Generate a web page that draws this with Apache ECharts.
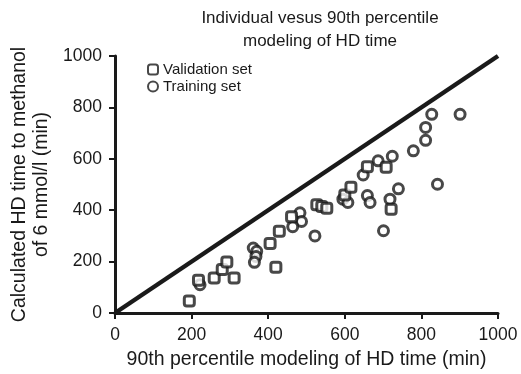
<!DOCTYPE html>
<html>
<head>
<meta charset="utf-8">
<script src="https://cdn.jsdelivr.net/npm/echarts@6/dist/echarts.min.js"></script>
<style>
  html, body { margin: 0; padding: 0; background: #fff; }
  #chart { width: 521px; height: 374px; }
</style>
</head>
<body>
<div id="chart"></div>
<script>
// data
const validation = [
  [194, 47], [218, 127], [259, 136], [280, 169], [292, 198], [311, 136],
  [405, 270], [420, 178], [429, 318], [461, 375], [527, 421], [540, 414],
  [553, 408], [600, 459], [616, 489], [659, 569], [708, 567], [721, 404],
]
const training = [
  [222, 110], [361, 253], [370, 240], [368, 220], [364, 197], [483, 390],
  [487, 356], [464, 336], [522, 300], [595, 443], [608, 430], [648, 537],
  [659, 457], [666, 430], [687, 592], [724, 610], [701, 320], [718, 443],
  [740, 483], [779, 631], [811, 672], [811, 722], [827, 773], [901, 773],
  [842, 501],
]
const identity = [[0, 0], [1000, 1000]]

const FONT = 'Liberation Sans'
const INK = '#1a1a1a'

const chart = echarts.init(document.getElementById('chart'))
const axisCommon = {
  type: 'value', min: 0, max: 1000, interval: 200,
  nameLocation: 'middle',
  nameTextStyle: { fontFamily: FONT, fontSize: 19.5, color: INK, lineHeight: 22 },
  axisLine: { show: true, lineStyle: { color: INK, width: 3 } },
  axisTick: { show: true, length: 6, lineStyle: { color: INK, width: 2 } },
  axisLabel: { fontFamily: FONT, fontSize: 17.5, color: INK, margin: 13, formatter: v => String(v) },
  splitLine: { show: false },
}
const markerStyle = { color: '#fff', borderColor: INK, borderWidth: 3 }

chart.setOption({
  animation: false,
  title: {
    text: 'Individual vesus 90th percentile\nmodeling of HD time',
    left: 315, top: 2, textAlign: 'center',
    textStyle: { fontFamily: FONT, fontSize: 17, fontWeight: 'normal', color: INK, lineHeight: 23 },
  },
  legend: {
    left: 142, top: 57, orient: 'vertical', itemGap: 2,
    itemWidth: 10, itemHeight: 10,
    textStyle: { fontFamily: FONT, fontSize: 15, color: INK },
    data: ['Validation set', 'Training set'],
  },
  grid: { left: 115, right: 23, top: 56, bottom: 61, containLabel: false, outerBoundsMode: 'none' },
  xAxis: { ...axisCommon, name: '90th percentile modeling of HD time (min)', nameGap: 33 },
  yAxis: { ...axisCommon, name: 'Calculated HD time to methanol\nof 6 mmol/l (min)', nameGap: 57 },
  series: [
    {
      type: 'line', data: identity, showSymbol: false, silent: true,
      lineStyle: { color: INK, width: 4.5 }, z: 1,
    },
    {
      name: 'Validation set', type: 'scatter', data: validation,
      symbol: 'roundRect', symbolSize: 10, itemStyle: markerStyle, z: 3,
    },
    {
      name: 'Training set', type: 'scatter', data: training,
      symbol: 'circle', symbolSize: 10, itemStyle: markerStyle, z: 2,
    },
  ],
})
</script>
</body>
</html>
